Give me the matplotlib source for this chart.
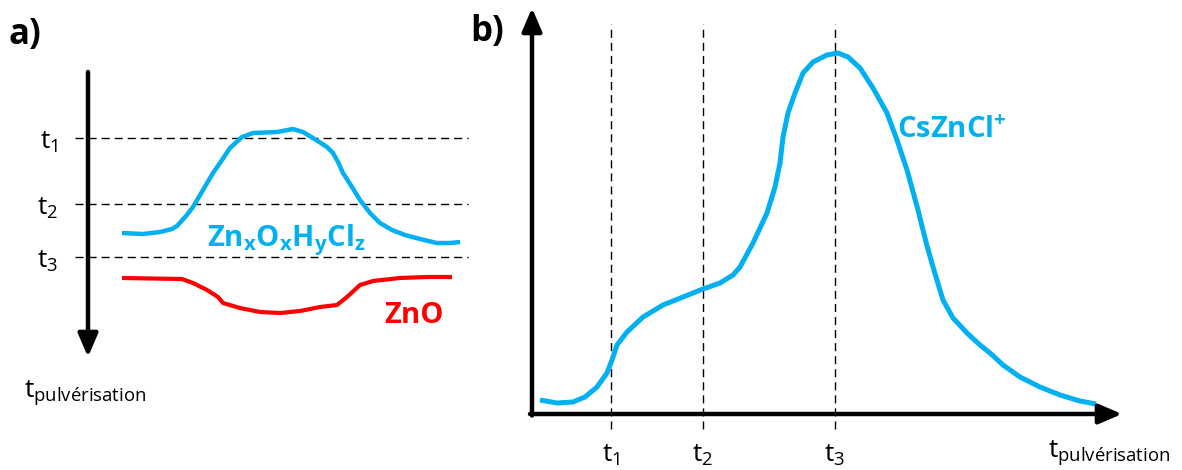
import matplotlib
matplotlib.use('Agg')
import matplotlib.pyplot as plt

W, H = 1182, 470
BLUE = '#00B0F0'
RED = '#FF0000'
FONT = 'Open Sans'

# ---------------- panel a : depth profile (x = lateral position, y = sputter time, downward)
a_blue_x = [122, 143, 160, 172, 177, 186, 193, 203, 213, 222, 230, 242, 253, 265, 277,
            293, 303, 313, 327, 333, 338, 343, 352, 360, 370, 380, 392, 405, 420, 437,
            450, 460]
a_blue_y = [233, 234, 232, 229, 226, 216, 207, 190, 173, 160, 148, 137, 133, 132.5, 132,
            129, 132, 138, 147, 153, 162, 173, 187, 200, 213, 223, 230, 235, 239, 243,
            243, 242]
a_red_x = [122, 182, 193, 207, 218, 223, 240, 260, 280, 300, 320, 337, 347, 360, 373,
           400, 427, 452]
a_red_y = [278, 279, 283, 290, 297, 303, 308, 312, 313, 311, 307, 305, 297, 285, 281,
           278, 277, 277]
a_t_levels = [138, 204, 257]
a_t_labels = ['1', '2', '3']

# ---------------- panel b : CsZnCl+ intensity vs sputter time
b_time = [0.8, 2.5, 4.1, 5.3, 6.5, 7.5, 8.0, 8.5, 9.5, 11.1, 13.1, 15.1, 17.1, 18.8,
          20.1, 20.8, 22.1, 23.5, 24.3, 24.8, 25.1, 25.6, 26.3, 27.1, 28.1, 29.5, 30.6,
          31.6, 32.8, 34.1, 35.5, 36.5, 37.5, 38.6, 39.4, 39.9, 40.4, 41.1, 42.1, 43.5,
          44.8, 45.8, 47.1, 48.8, 50.8, 52.8, 54.8, 56.4]
b_intensity = [1.4, 1.1, 1.2, 1.7, 2.7, 4.1, 5.4, 6.9, 8.2, 9.7, 10.9, 11.7, 12.5, 13.1,
               13.9, 14.7, 17.1, 20.1, 22.7, 25.1, 27.7, 30.1, 32.1, 34.1, 35.2, 35.9,
               36.1, 35.7, 34.6, 32.6, 30.1, 27.4, 24.4, 20.4, 17.2, 15.4, 13.7, 11.4,
               9.6, 8.1, 6.9, 6.1, 4.9, 3.7, 2.7, 1.9, 1.3, 1.0]
b_t_marks = [7.9, 17.1, 30.3]
b_t_labels = ['1', '2', '3']

fig = plt.figure(figsize=(W / 100, H / 100), dpi=100)
fig.patch.set_facecolor('white')

ARROW = dict(arrowstyle='-|>,head_length=1.4,head_width=0.6', lw=3.2, color='black',
             shrinkA=0, shrinkB=0, mutation_scale=10)

# ---------------- panel a
ax_a = fig.add_axes([0, 0, 480 / W, 1])
ax_a.set_xlim(0, 480)
ax_a.set_ylim(H, 0)
ax_a.axis('off')

for y, lab in zip(a_t_levels, a_t_labels):
    ax_a.plot([75, 468], [y, y], color='black', lw=1.0, ls=(0, (5.8, 3.6)))
    ax_a.text(58, y + 4, r'$\mathregular{t_{%s}}$' % lab, ha='right', va='center',
              fontsize=19, family=FONT)

ax_a.annotate('', xy=(88, 357), xytext=(88, 72), arrowprops=ARROW)

ax_a.plot(a_blue_x, a_blue_y, color=BLUE, lw=3.2, solid_joinstyle='round',
          solid_capstyle='butt')
ax_a.plot(a_red_x, a_red_y, color=RED, lw=3.0, solid_joinstyle='round',
          solid_capstyle='butt')

ax_a.text(207, 246, r'$\mathregular{Zn_xO_xH_yCl_z}$', color=BLUE, fontsize=21,
          fontweight='bold', family=FONT, va='baseline', ha='left')
ax_a.text(384, 323, 'ZnO', color=RED, fontsize=21, fontweight='bold', family=FONT,
          va='baseline', ha='left')
ax_a.text(24, 397, r'$\mathregular{t_{pulvérisation}}$', fontsize=19, family=FONT,
          va='baseline', ha='left')
ax_a.text(8, 35, 'a)', fontsize=25, fontweight='bold', family=FONT, va='center',
          ha='left')

# ---------------- panel b
ax_b = fig.add_axes([480 / W, 0, 702 / W, 1])
ax_b.set_xlim(-5.2, 65.0)
ax_b.set_ylim(-5.6, 41.4)
ax_b.axis('off')

for t, lab in zip(b_t_marks, b_t_labels):
    ax_b.plot([t, t], [-1.5, 39.0], color='black', lw=1.0, ls=(0, (5.8, 3.6)))
    ax_b.text(t, -4.8, r'$\mathregular{t_{%s}}$' % lab, ha='center', va='baseline',
              fontsize=19, family=FONT)

ax_b.annotate('', xy=(59.0, 0), xytext=(-0.2, 0), arrowprops=ARROW)
ax_b.annotate('', xy=(0, 40.6), xytext=(0, -0.15), arrowprops=ARROW)

ax_b.plot(b_time, b_intensity, color=BLUE, lw=3.6, solid_joinstyle='round',
          solid_capstyle='butt')

ax_b.text(36.5, 27.6, r'$\mathregular{CsZnCl^{+}}$', color=BLUE, fontsize=21,
          fontweight='bold', family=FONT, va='baseline', ha='left')
ax_b.text(51.6, -4.3, r'$\mathregular{t_{pulvérisation}}$', fontsize=19, family=FONT,
          va='baseline', ha='left')
ax_b.text(-6.2, 38.2, 'b)', fontsize=25, fontweight='bold', family=FONT, va='center',
          ha='left')

fig.savefig('out.png', dpi=100, facecolor='white')
